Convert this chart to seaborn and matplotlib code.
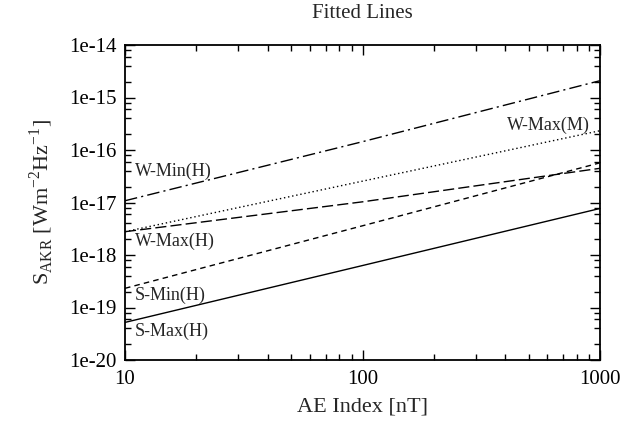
import matplotlib
matplotlib.use("Agg")
import matplotlib.pyplot as plt
import matplotlib.ticker as mticker
import seaborn as sns
import numpy as np
import pandas as pd

ae_index = [10, 100, 1000]
w_min_h = [1.08e-17, 1.44e-16, 2.09e-15]
w_max_m = [2.78e-18, 2.55e-17, 2.33e-16]
w_max_h = [2.78e-18, 1.03e-17, 4.48e-17]
s_min_h = [2.32e-19, 3.6e-18, 5.7e-17]
s_max_h = [5.2e-20, 6.3e-19, 7.7e-18]

series = [
    ("W-Min(H)", w_min_h, (0, (9, 3, 1.5, 3))),
    ("W-Max(M)", w_max_m, (0, (1, 2))),
    ("W-Max(H)", w_max_h, (0, (8, 3))),
    ("S-Min(H)", s_min_h, (0, (4, 3))),
    ("S-Max(H)", s_max_h, "-"),
]

sns.set_style("ticks")
plt.rcParams["font.family"] = ["Liberation Serif", "DejaVu Serif"]
plt.rcParams["mathtext.fontset"] = "custom"
plt.rcParams["mathtext.rm"] = "Liberation Serif"
plt.rcParams["xtick.direction"] = "in"
plt.rcParams["ytick.direction"] = "in"

fig = plt.figure(figsize=(6.22, 4.26), dpi=100)
ax = fig.add_axes([125 / 622, 1 - 360 / 426, 475 / 622, 315 / 426])

for name, vals, ls in series:
    df = pd.DataFrame({"x": ae_index, "y": vals})
    sns.lineplot(data=df, x="x", y="y", ax=ax, color="black", linewidth=1.0,
                 linestyle=ls)

ax.set_xscale("log")
ax.set_yscale("log")
ax.set_xlim(10, 1000)
ax.set_ylim(1e-20, 1e-14)

ax.xaxis.set_major_locator(mticker.FixedLocator([10, 100, 1000]))
ax.xaxis.set_major_formatter(mticker.FixedFormatter(["10", "100", "1000"]))
ax.xaxis.set_minor_locator(mticker.LogLocator(base=10, subs=np.arange(2, 10)))
ax.xaxis.set_minor_formatter(mticker.NullFormatter())
yt = [1e-20, 1e-19, 1e-18, 1e-17, 1e-16, 1e-15, 1e-14]
ax.yaxis.set_major_locator(mticker.FixedLocator(yt))
ax.yaxis.set_major_formatter(mticker.FixedFormatter(["1e-20", "1e-19", "1e-18", "1e-17", "1e-16", "1e-15", "1e-14"]))
ax.yaxis.set_minor_locator(mticker.LogLocator(base=10, subs=[2, 4, 6, 8]))
ax.yaxis.set_minor_formatter(mticker.NullFormatter())

ax.tick_params(which="both", direction="in", top=True, right=True, colors="black", labelsize=15)
ax.tick_params(which="major", length=7, width=1)
ax.tick_params(which="minor", length=4, width=1)
ax.tick_params(axis="x", pad=7)
ax.tick_params(axis="y", pad=6)
for sp in ax.spines.values():
    sp.set_linewidth(1.3)
    sp.set_color("black")

ax.set_xlabel("AE Index [nT]", fontsize=16, labelpad=6)
ax.set_ylabel(r"S$_\mathregular{AKR}$ [Wm$^\mathregular{-2}$Hz$^\mathregular{-1}$]", fontsize=16, labelpad=10)
fig.text(362 / 622, 1 - 14 / 426, "Fitted Lines", ha="center", va="center", fontsize=15)

lab_kw = dict(transform=ax.transAxes, fontsize=13, va="center")
ax.text(0.021, 0.598, "W-Min(H)", ha="left", **lab_kw)
ax.text(0.021, 0.376, "W-Max(H)", ha="left", **lab_kw)
ax.text(0.021, 0.204, "S-Min(H)", ha="left", **lab_kw)
ax.text(0.021, 0.090, "S-Max(H)", ha="left", **lab_kw)
ax.text(0.979, 0.746, "W-Max(M)", ha="right", **lab_kw)

fig.savefig("out.png", dpi=100)
